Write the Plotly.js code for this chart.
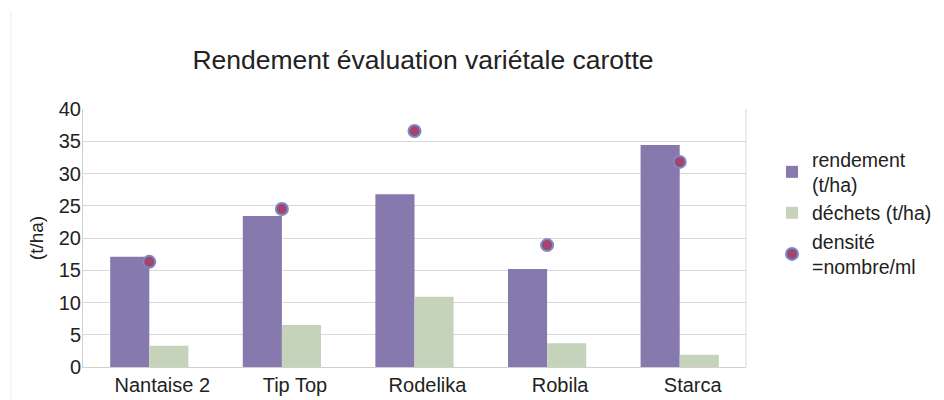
<!DOCTYPE html>
<html>
<head>
<meta charset="utf-8">
<script src="https://cdn.plot.ly/plotly-3.0.1.min.js"></script>
<style>html,body{margin:0;padding:0;background:#fff;}#chart{width:944px;height:400px;}</style>
</head>
<body>
<div id="chart"></div>
<script>
var categories = ["Nantaise 2", "Tip Top", "Rodelika", "Robila", "Starca"];
var rendement = [17.1, 23.4, 26.8, 15.2, 34.4];
var dechets = [3.3, 6.5, 10.9, 3.7, 1.9];
var densite = [16.3, 24.5, 36.6, 18.9, 31.8];
var yTicks = [0, 5, 10, 15, 20, 25, 30, 35, 40];

var font = "Liberation Sans, Arial, sans-serif";

var traces = [
  {type: "bar", name: "rendement<br>(t/ha)", x: categories, y: rendement,
   marker: {color: "#8679AD"}},
  {type: "bar", name: "déchets (t/ha)", x: categories, y: dechets,
   marker: {color: "#C6D3BB"}},
  {type: "scatter", mode: "markers", name: "densité<br>=nombre/ml", x: categories, y: densite,
   marker: {color: "#A3456F", size: 12, line: {color: "#7A8CC4", width: 2}}}
];

var layout = {
  width: 944, height: 400,
  margin: {l: 83, r: 198, t: 109, b: 33, autoexpand: false},
  paper_bgcolor: "#ffffff", plot_bgcolor: "#ffffff",
  font: {family: font, color: "#222222", size: 20},
  title: {text: "Rendement évaluation variétale carotte", font: {family: font, size: 26.5, color: "#222"},
          x: 423/944, xanchor: "center", y: 1 - 60/400, yanchor: "middle"},
  barmode: "group", bargap: 0.41, bargroupgap: 0,
  showlegend: true,
  legend: {x: (772 - 83)/663, xanchor: "left", y: (367 - 140)/258, yanchor: "top",
           font: {family: font, size: 19.5, color: "#222"},
           itemwidth: 30, tracegroupgap: 0, bgcolor: "rgba(0,0,0,0)"},
  xaxis: {type: "category", showgrid: false, showline: true, linecolor: "#d0d0d0", linewidth: 1,
          ticks: "", tickfont: {family: font, size: 20, color: "#222"}, ticklabelshift: 13},
  yaxis: {range: [0, 40], tickvals: yTicks, showgrid: true, gridcolor: "#d9d9d9", gridwidth: 1,
          showline: true, linecolor: "#d0d0d0", linewidth: 1, zeroline: false, ticks: "",
          tickfont: {family: font, size: 20, color: "#222"}, ticklabelstandoff: -3,
          title: {text: "(t/ha)", font: {family: font, size: 19, color: "#222"}, standoff: 10}},
  shapes: [
    {type: "line", xref: "paper", yref: "paper", x0: 1, x1: 1, y0: 0, y1: 1, line: {color: "#d9d9d9", width: 1}},
    {type: "line", xref: "paper", yref: "paper", x0: -72/663, x1: -72/663, y0: -33/258, y1: 355/258,
     line: {color: "#ebebeb", width: 1}}
  ]
};

Plotly.newPlot("chart", traces, layout, {displayModeBar: false, staticPlot: true});
</script>
</body>
</html>
